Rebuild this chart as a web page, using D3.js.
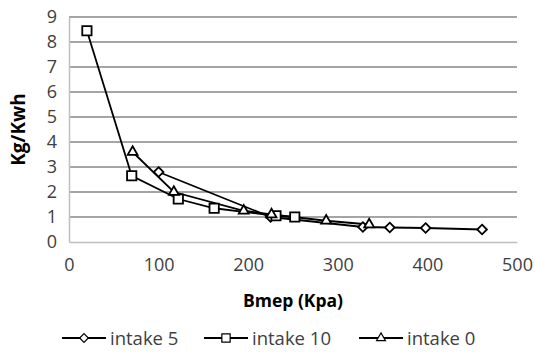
<!DOCTYPE html>
<html>
<head>
<meta charset="utf-8">
<script src="https://cdn.jsdelivr.net/npm/d3@7"></script>
<style>
  body { margin: 0; background: #fff; }
  text { font-family: "Open Sans", sans-serif; fill: #404040; }
</style>
</head>
<body>
<svg id="chart"></svg>
<script>
"use strict";

var seriesNames = ["intake 5", "intake 10", "intake 0"];
var intake5X = [100, 225, 328, 358, 398, 461];
var intake5Y = [2.8, 1.0, 0.6, 0.58, 0.56, 0.5];
var intake10X = [20, 70, 122, 162, 231, 252];
var intake10Y = [8.45, 2.65, 1.72, 1.35, 1.05, 1.0];
var intake0X = [71, 117, 195, 226, 287, 335];
var intake0Y = [3.6, 2.0, 1.25, 1.1, 0.85, 0.7];
var xTicks = [0, 100, 200, 300, 400, 500];
var yTicks = [0, 1, 2, 3, 4, 5, 6, 7, 8, 9];

var width = 534;
var height = 352;
var margin = { top: 17, right: 17, bottom: 110, left: 69 };
var svg = d3.select("#chart").attr("width", width).attr("height", height);
var viewWidth = width - margin.left - margin.right;
var viewHeight = height - margin.top - margin.bottom;

var x = d3.scaleLinear().domain([0, 500]).range([0, viewWidth]);
var y = d3.scaleLinear().domain([0, 9]).range([viewHeight, 0]);

var G = svg.append("g").attr("transform", "translate(" + margin.left + "," + margin.top + ")");

// gridlines
G.append("g").selectAll("line").data(yTicks.filter(function (d) { return d > 0; })).enter().append("line")
  .attr("x1", 0).attr("x2", viewWidth)
  .attr("y1", function (d) { return y(d); }).attr("y2", function (d) { return y(d); })
  .attr("stroke", "#878787").attr("stroke-width", 1.5);

// axes
var xAxisCall = d3.axisBottom(x).tickValues(xTicks).tickSize(0).tickPadding(16);
var yAxisCall = d3.axisLeft(y).tickValues(yTicks).tickSize(0).tickPadding(12);
var xAxis = G.append("g").attr("transform", "translate(0," + viewHeight + ")").call(xAxisCall);
var yAxis = G.append("g").call(yAxisCall);
[xAxis, yAxis].forEach(function (a) {
  a.select(".domain").attr("stroke", "#bfbfbf").attr("stroke-width", 1.5);
  a.selectAll("text").style("font-size", "18px").style("fill", "#404040").style("font-family", "'Open Sans', sans-serif");
});

svg.append("text").attr("text-anchor", "middle")
  .attr("transform", "translate(25," + (margin.top + viewHeight / 2) + ") rotate(-90)")
  .style("font-size", "19px").style("font-weight", "bold").style("fill", "#000").text("Kg/Kwh");
svg.append("text").attr("text-anchor", "middle")
  .attr("x", margin.left + viewWidth / 2).attr("y", 307)
  .style("font-size", "17.5px").style("font-weight", "bold").style("fill", "#000").text("Bmep (Kpa)");

var series = [
  { name: seriesNames[0], xs: intake5X, ys: intake5Y, symbol: d3.symbolDiamond2, size: 60 },
  { name: seriesNames[1], xs: intake10X, ys: intake10Y, symbol: d3.symbolSquare2, size: 110 },
  { name: seriesNames[2], xs: intake0X, ys: intake0Y, symbol: d3.symbolTriangle2, size: 70 }
];

var line = d3.line().x(function (d) { return x(d[0]); }).y(function (d) { return y(d[1]); });

series.forEach(function (s) {
  var pts = s.xs.map(function (v, i) { return [v, s.ys[i]]; });
  G.append("path").datum(pts).attr("d", line).attr("fill", "none").attr("stroke", "#000").attr("stroke-width", 1.8);
});
series.forEach(function (s) {
  var pts = s.xs.map(function (v, i) { return [v, s.ys[i]]; });
  G.append("g").selectAll("path").data(pts).enter().append("path")
    .attr("d", d3.symbol().type(s.symbol).size(s.size))
    .attr("transform", function (d) { return "translate(" + x(d[0]) + "," + y(d[1]) + ")"; })
    .attr("fill", "#fff").attr("stroke", "#000").attr("stroke-width", 1.8);
});

// legend
var legendX = [62, 204, 359];
var legend = svg.append("g").attr("transform", "translate(0,338)");
series.forEach(function (s, i) {
  var lg = legend.append("g").attr("transform", "translate(" + legendX[i] + ",0)");
  lg.append("line").attr("x1", 0).attr("x2", 44).attr("y1", 0).attr("y2", 0).attr("stroke", "#000").attr("stroke-width", 1.8);
  lg.append("path").attr("d", d3.symbol().type(s.symbol).size(s.size * 0.8))
    .attr("transform", "translate(22,0)").attr("fill", "#fff").attr("stroke", "#000").attr("stroke-width", 1.2);
  lg.append("text").attr("x", 48).attr("y", 7).style("font-size", "18.5px").text(s.name);
});
</script>
</body>
</html>
